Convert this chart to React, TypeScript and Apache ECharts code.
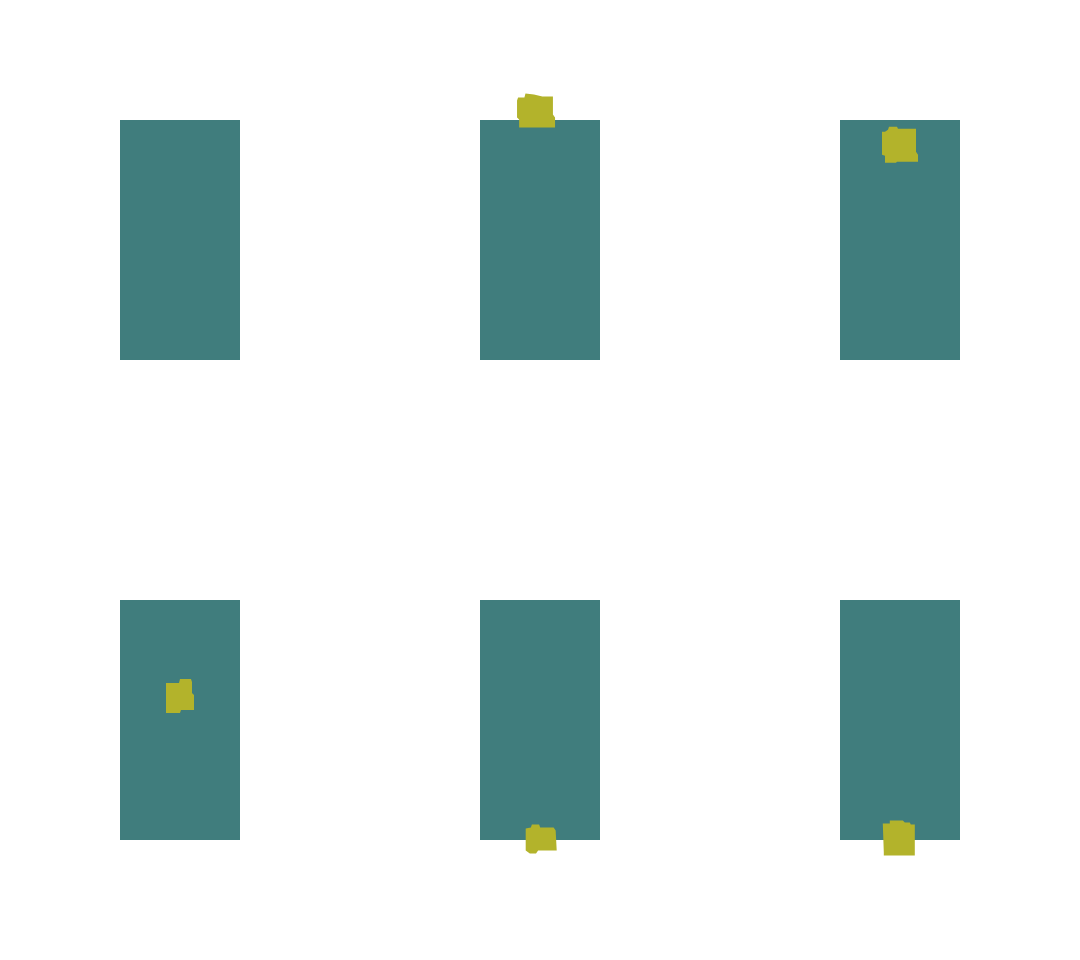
import React, { useEffect, useRef } from "react";
import * as echarts from "echarts";

// Data
const panels = ["P1", "P2", "P3", "P4", "P5", "P6"];
const barValues = [1, 1, 1, 1, 1, 1];
const blobX: (number | null)[] = [null, 0.467, 0.5, 0.5, 0.51, 0.49];
const blobY: (number | null)[] = [null, 1.04, 0.897, 0.6, 0.004, 0.008];

// Styles / layout
const colLeft = [120, 480, 840];
const rowTop = [120, 600];
const panelW = 120;
const panelH = 240;
const teal = "#407d7d";
const olive = "#b3b32b";
const blobSizes: [number, number][] = [
  [30, 30],
  [38, 34],
  [36, 36],
  [28, 34],
  [31, 29],
  [32, 35],
];
const blobPaths = [
  "M0,0 L10,0 L10,10 L0,10 Z",
  "M2,4 L8,4 L9,0 L17,1 L25,3 L35,3 L35,21 L37,24 L37,34 L3,34 L3,26 L1,24 L1,7 Z",
  "M3,5 L6,3 L7,0 L15,0 L16,2 L34,2 L34,25 L36,28 L36,35 L15,35 L14,36 L3,36 L3,29 L0,28 L0,5 Z",
  "M0,4 L13,4 L14,0 L25,0 L26,3 L26,14 L28,16 L28,31 L15,31 L14,34 L0,34 Z",
  "M1,4 L6,3 L7,0 L14,0 L15,3 L28,3 L30,6 L31,26 L13,26 L11,29 L5,29 L1,26 Z",
  "M0,3 L7,3 L7,0 L20,0 L22,2 L27,2 L28,4 L32,4 L32,35 L1,35 L1,32 Z",
];

export default function App() {
  const ref = useRef<HTMLDivElement>(null);
  useEffect(() => {
    if (!ref.current) return;
    const chart = echarts.init(ref.current, null, { renderer: "svg" });
    const grid: any[] = [];
    const xAxis: any[] = [];
    const yAxis: any[] = [];
    const series: any[] = [];
    panels.forEach((p, i) => {
      const col = i % 3;
      const row = Math.floor(i / 3);
      grid.push({
        left: colLeft[col],
        top: rowTop[row],
        width: panelW,
        height: panelH,
        containLabel: false,
      });
      xAxis.push({
        type: "category",
        gridIndex: i,
        data: [p],
        show: false,
      });
      xAxis.push({
        type: "value",
        gridIndex: i,
        min: 0,
        max: 1,
        show: false,
      });
      yAxis.push({
        type: "value",
        gridIndex: i,
        min: 0,
        max: 1,
        show: false,
      });
      series.push({
        type: "bar",
        xAxisIndex: i * 2,
        yAxisIndex: i,
        data: [barValues[i]],
        barWidth: "100%",
        itemStyle: { color: teal },
        silent: true,
      });
      if (blobX[i] != null && blobY[i] != null) {
        series.push({
          type: "scatter",
          xAxisIndex: i * 2 + 1,
          yAxisIndex: i,
          data: [[blobX[i], blobY[i]]],
          symbol: "path://" + blobPaths[i],
          symbolSize: blobSizes[i],
          clip: false,
          itemStyle: { color: olive, opacity: 1 },
          z: 5,
        });
      }
    });
    chart.setOption({
      animation: false,
      backgroundColor: "#ffffff",
      grid,
      xAxis,
      yAxis,
      series,
    });
    return () => chart.dispose();
  }, []);
  return (
    <div
      ref={ref}
      style={{ position: "fixed", left: 0, top: 0, width: 1080, height: 960 }}
    />
  );
}
